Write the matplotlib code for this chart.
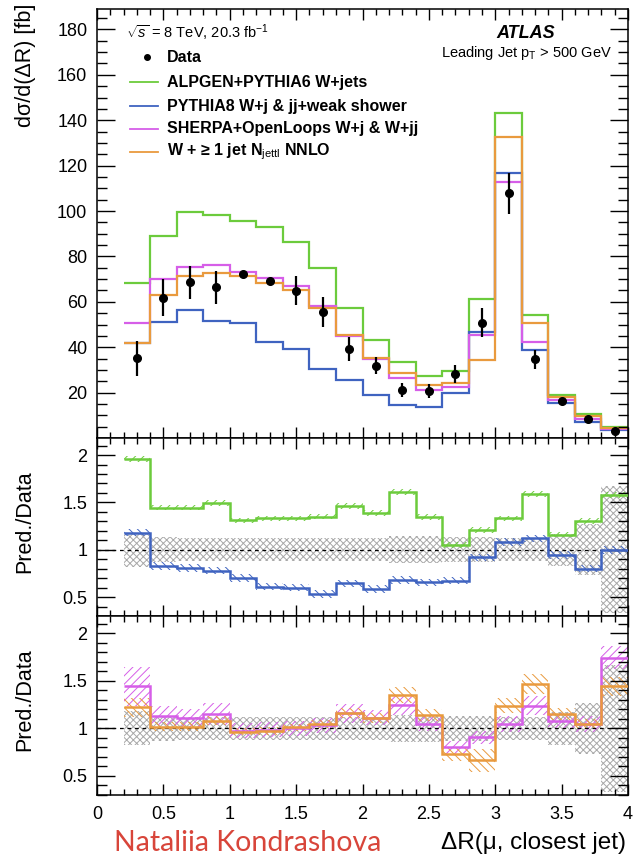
import numpy as np
import matplotlib
matplotlib.use("Agg")
import matplotlib.pyplot as plt
from matplotlib.ticker import MultipleLocator, FuncFormatter

plt.rcParams['font.family'] = ['Liberation Sans', 'DejaVu Sans']
plt.rcParams['mathtext.fontset'] = 'custom'
plt.rcParams['mathtext.rm'] = 'Liberation Sans'
plt.rcParams['mathtext.it'] = 'Liberation Sans:italic'
plt.rcParams['mathtext.bf'] = 'Liberation Sans:bold'
plt.rcParams['hatch.linewidth'] = 0.7

# bin edges in Delta R
edges = [0.2, 0.4, 0.6, 0.8, 1.0, 1.2, 1.4, 1.6, 1.8, 2.0, 2.2,
         2.4, 2.6, 2.8, 3.0, 3.2, 3.4, 3.6, 3.8, 4.0]
centers = [0.3, 0.5, 0.7, 0.9, 1.1, 1.3, 1.5, 1.7, 1.9, 2.1,
           2.3, 2.5, 2.7, 2.9, 3.1, 3.3, 3.5, 3.7, 3.9]

# cross sections [fb]
data = [35.1, 61.8, 68.6, 66.4, 72.2, 69.3, 64.9, 55.6, 39.2, 31.9,
        21.1, 20.7, 28.2, 50.8, 107.8, 34.7, 16.3, 8.2, 3.1]
data_err = [7.6, 8.1, 7.3, 7.3, 1.0, 1.0, 6.5, 6.5, 5.4, 3.7,
            3.0, 3.0, 4.0, 6.5, 9.0, 4.2, 1.5, 1.0, 0.8]
alpgen = [68.1, 89.0, 99.4, 98.2, 95.6, 92.8, 86.5, 74.8, 57.4, 43.2,
          33.3, 27.3, 29.6, 61.1, 143.3, 54.1, 18.9, 10.6, 5.0]
pythia8 = [41.9, 51.2, 56.4, 51.5, 50.8, 42.4, 39.2, 30.4, 25.6, 18.8,
           14.7, 13.8, 19.7, 46.8, 116.6, 38.8, 15.6, 6.9, 3.5]
sherpa = [50.8, 70.2, 75.5, 76.1, 73.0, 70.4, 67.0, 58.1, 45.1, 34.7,
          26.3, 21.1, 22.6, 45.4, 112.9, 42.4, 16.7, 8.2, 3.8]
nnlo = [41.9, 62.9, 71.4, 72.6, 71.5, 68.1, 65.2, 57.4, 45.4, 35.1,
        28.5, 23.3, 24.4, 34.4, 132.7, 50.5, 17.9, 9.7, 4.5]

# ratios Pred./Data
r_alpgen = [1.955, 1.445, 1.445, 1.49, 1.31, 1.33, 1.33, 1.35, 1.46, 1.386,
            1.61, 1.347, 1.05, 1.21, 1.33, 1.586, 1.16, 1.305, 1.576]
r_pythia8 = [1.18, 0.83, 0.81, 0.78, 0.70, 0.61, 0.60, 0.53, 0.645, 0.586,
             0.68, 0.656, 0.674, 0.92, 1.084, 1.12, 0.947, 0.80, 1.0]
r_sherpa = [1.44, 1.13, 1.105, 1.15, 0.975, 0.985, 1.0, 1.03, 1.16, 1.11,
            1.245, 1.05, 0.80, 0.905, 1.045, 1.24, 1.08, 1.045, 1.74]
r_nnlo = [1.22, 1.017, 1.017, 1.08, 0.965, 0.97, 1.01, 1.045, 1.16, 1.11,
          1.35, 1.14, 0.73, 0.666, 1.24, 1.466, 1.15, 1.05, 1.44]

# uncertainty half-widths on the ratios
unc_data = [0.18, 0.13, 0.12, 0.12, 0.12, 0.12, 0.12, 0.12, 0.12, 0.12,
            0.14, 0.14, 0.13, 0.13, 0.12, 0.12, 0.17, 0.27, 0.67]
unc_alpgen = [0.03] * 19
unc_pythia8 = [0.04] * 19
unc_sherpa = [0.2, 0.1, 0.1, 0.12, 0.08, 0.08, 0.08, 0.08, 0.1, 0.08,
              0.1, 0.08, 0.07, 0.07, 0.08, 0.1, 0.08, 0.08, 0.12]
unc_nnlo = [0.1, 0.05, 0.05, 0.05, 0.04, 0.04, 0.04, 0.04, 0.05, 0.05,
            0.08, 0.06, 0.07, 0.12, 0.08, 0.1, 0.06, 0.05, 0.1]

c_green = '#6ccb3c'
c_blue = '#3f63c0'
c_mag = '#d65ee8'
c_orange = '#e99a3e'

fig = plt.figure(figsize=(6.42, 8.6), dpi=100)
L, W = 97 / 642, 531 / 642
ax = fig.add_axes([L, 1 - 438 / 860, W, 429 / 860])
ax2 = fig.add_axes([L, 1 - 616 / 860, W, 178 / 860])
ax3 = fig.add_axes([L, 1 - 795 / 860, W, 179 / 860])

edges = np.array(edges)
centers = np.array(centers)


def style(a, ymajor, yminor):
    a.set_xlim(0, 4)
    a.xaxis.set_major_locator(MultipleLocator(0.5))
    a.xaxis.set_minor_locator(MultipleLocator(0.1))
    a.yaxis.set_major_locator(MultipleLocator(ymajor))
    a.yaxis.set_minor_locator(MultipleLocator(yminor))
    a.tick_params(which='both', direction='in', top=True, right=True,
                  labelsize=13, width=1.0)
    a.tick_params(axis='y', which='major', length=13, pad=7)
    a.tick_params(axis='y', which='minor', length=7)
    a.tick_params(axis='x', which='major', length=8, pad=8)
    a.tick_params(axis='x', which='minor', length=4.5)
    for s in a.spines.values():
        s.set_linewidth(1.1)
    a.yaxis.set_major_formatter(FuncFormatter(lambda v, p: '%g' % v))
    a.xaxis.set_major_formatter(FuncFormatter(lambda v, p: '%g' % v))


# ---- top panel ----
style(ax, 20, 5)
ax.set_ylim(0, 189)
ax.set_yticks([20, 40, 60, 80, 100, 120, 140, 160, 180])
ax.tick_params(labelbottom=False)
ax.stairs(alpgen, edges, color=c_green, lw=1.6, baseline=None)
ax.stairs(pythia8, edges, color=c_blue, lw=1.6, baseline=None)
ax.stairs(sherpa, edges, color=c_mag, lw=1.6, baseline=None)
ax.stairs(nnlo, edges, color=c_orange, lw=1.6, baseline=None)
ax.errorbar(centers, data, yerr=data_err, fmt='o', color='black', ms=5.5,
            elinewidth=1.6, capsize=0, zorder=5)

# legend, drawn by hand in ROOT style
tr = ax.transAxes
def fy(py):
    return (438 - py) / 429
def fx(px):
    return (px - 97) / 531

ax.text(fx(126), fy(33), r'$\sqrt{s}$ = 8 TeV, 20.3 fb$^{-1}$', transform=tr,
        fontsize=10.5, va='center', ha='left')
ax.text(fx(555), fy(33), 'ATLAS', transform=tr, fontsize=13, va='center',
        ha='right', fontweight='bold', style='italic')
ax.text(fx(612), fy(53), r'Leading Jet p$_{\rm T}$ > 500 GeV', transform=tr,
        fontsize=10.5, va='center', ha='right')
ax.plot([fx(147)], [fy(57)], 'o', color='black', ms=4, transform=tr)
rows = [('ALPGEN+PYTHIA6 W+jets', c_green, 82),
        ('PYTHIA8 W+j & jj+weak shower', c_blue, 106),
        ('SHERPA+OpenLoops W+j & W+jj', c_mag, 129),
        (r'W + ≥ 1 jet N$_{\rm jettl}$ NNLO', c_orange, 152)]
ax.text(fx(167), fy(57), 'Data', transform=tr, fontsize=11.5,
        fontweight='bold', va='center')
for lab, col, py in rows:
    ax.plot([fx(130), fx(158)], [fy(py), fy(py)], color=col, lw=1.3,
            transform=tr)
    ax.text(fx(167), fy(py), lab, transform=tr, fontsize=11.5,
            fontweight='bold', va='center')


def band(a, vals, unc, col, hatch):
    vals = np.array(vals)
    unc = np.array(unc)
    a.bar(centers, 2 * unc, bottom=vals - unc, width=0.2, fill=False,
          hatch=hatch, edgecolor=col, linewidth=0, zorder=1)


# ---- ratio panels ----
for a in (ax2, ax3):
    style(a, 0.5, 0.1)
    a.set_ylim(0.3, 2.18)
    a.set_yticks([0.5, 1, 1.5, 2])
    band(a, np.ones(19), unc_data, '#a8a8a8', 'xxxxx')
    a.axhline(1, color='black', lw=0.9, ls=(0, (3, 3)), zorder=2)

ax2.tick_params(labelbottom=False)
band(ax2, r_alpgen, unc_alpgen, c_green, '////')
band(ax2, r_pythia8, unc_pythia8, c_blue, '\\\\\\\\')
ax2.stairs(r_alpgen, edges, color=c_green, lw=1.8, baseline=None, zorder=3)
ax2.stairs(r_pythia8, edges, color=c_blue, lw=1.8, baseline=None, zorder=3)

band(ax3, r_sherpa, unc_sherpa, c_mag, '////')
band(ax3, r_nnlo, unc_nnlo, c_orange, '\\\\\\\\')
ax3.stairs(r_sherpa, edges, color=c_mag, lw=1.8, baseline=None, zorder=3)
ax3.stairs(r_nnlo, edges, color=c_orange, lw=1.8, baseline=None, zorder=3)

# axis titles
fig.text(25 / 642, 1 - 4 / 860, 'dσ/d(ΔR) [fb]', rotation=90, ha='center',
         va='top', fontsize=15.5)
fig.text(25 / 642, 1 - 522 / 860, 'Pred./Data', rotation=90, ha='center',
         va='center', fontsize=15.5)
fig.text(25 / 642, 1 - 700 / 860, 'Pred./Data', rotation=90, ha='center',
         va='center', fontsize=15.5)
fig.text(626 / 642, 1 - 843 / 860, 'ΔR(μ, closest jet)', ha='right',
         va='center', fontsize=17.5)
fig.text(114 / 642, 1 - 843 / 860, 'Nataliia Kondrashova', ha='left',
         va='center', fontsize=20.5, color='#d8453a', family=['Lato', 'DejaVu Sans'])

fig.savefig('out.png', dpi=100)
